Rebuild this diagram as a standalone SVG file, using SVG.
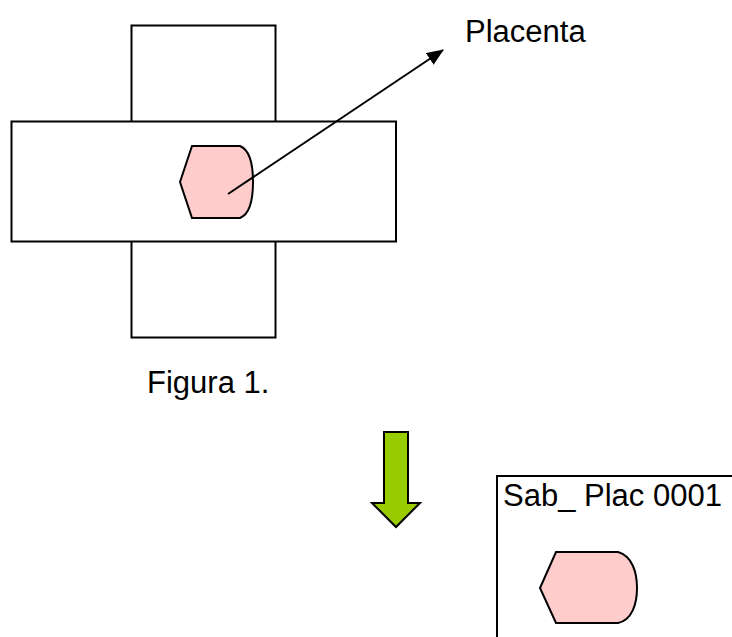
<svg xmlns="http://www.w3.org/2000/svg" width="732" height="637" viewBox="0 0 732 637">
<style>
.box{fill:#fff;stroke:#000;stroke-width:2}
.hex{fill:#FFCCCC;stroke:#000;stroke-width:2}
.t{font-family:"Liberation Sans",Arial,sans-serif;font-size:31px;fill:#000}
</style>
<defs>
<marker id="ah" markerWidth="17" markerHeight="14" refX="16" refY="7" orient="auto" markerUnits="userSpaceOnUse" viewBox="0 0 17 14">
<path d="M0,0 L17,7 L0,14 Z" fill="#000"/>
</marker>
</defs>
<rect width="732" height="637" fill="#fff"/>
<g id="cross">
<rect class="box" x="131.5" y="25.5" width="144" height="312"/>
<rect class="box" x="11.5" y="121.5" width="384.5" height="120"/>
</g>
<g id="placenta1">
<path class="hex" d="M180,182 L192,146 L240,146 C250,150 253,165 253,182 C253,199 250,214 240,218 L192,218 Z"/>
</g>
<g id="label-placenta">
<text class="t" x="465" y="42">Placenta</text>
</g>
<g id="connectors">
<line x1="228" y1="194" x2="443" y2="50" stroke="#000" stroke-width="2" marker-end="url(#ah)"/>
</g>
<g id="caption">
<text class="t" x="147" y="393">Figura 1.</text>
</g>
<g id="green-arrow">
<polygon points="384,432 408,432 408,503 420,503 396,527 372,503 384,503" fill="#99CC00" stroke="#000" stroke-width="2"/>
</g>
<g id="sample">
<path d="M497,637 L497,476 L732,476" fill="none" stroke="#000" stroke-width="2"/>
<text class="t" x="503" y="506">Sab_ Plac 0001</text>
<path class="hex" d="M540,588 L556,552 L618,552 C632,556 637,572 637,588 C637,604 632,620 618,623 L556,623 Z"/>
</g>
</svg>
